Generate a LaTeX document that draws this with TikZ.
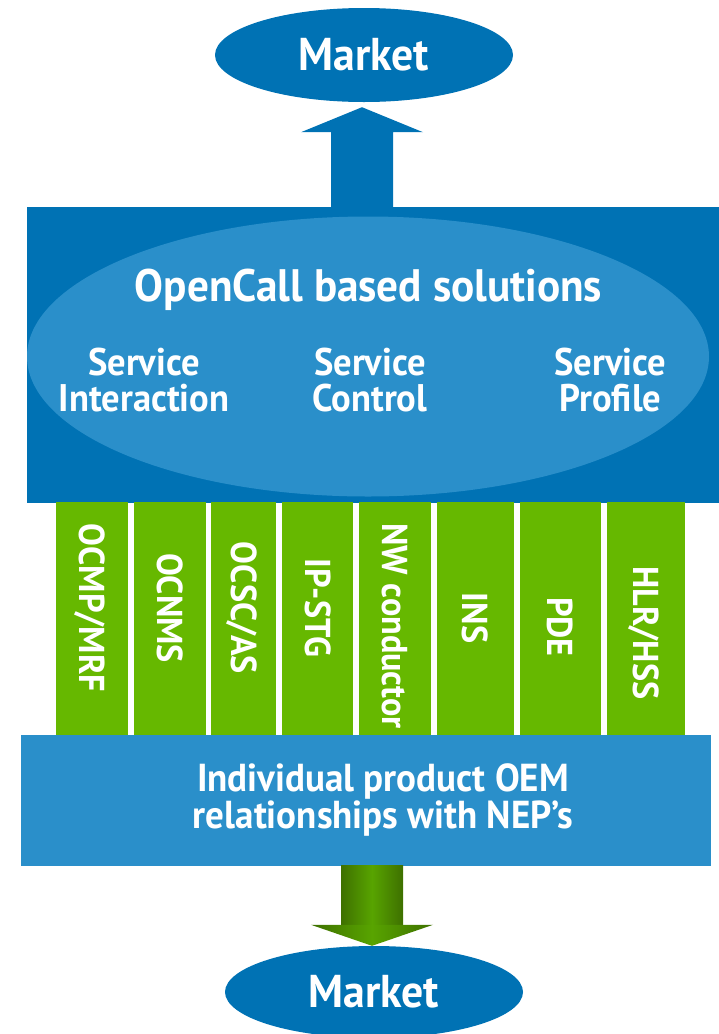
\documentclass[tikz,border=0pt]{standalone}
\usepackage{fontspec}
\setmainfont[FakeStretch=0.95]{PT Sans}
\usetikzlibrary{shapes.geometric,calc}
\definecolor{dkblue}{RGB}{0,114,180}
\definecolor{ltblue}{RGB}{42,143,202}
\definecolor{grn}{RGB}{102,184,0}
\definecolor{gdark}{RGB}{62,112,0}
\definecolor{glight}{RGB}{88,164,0}
\begin{document}
\begin{tikzpicture}[x=1pt,y=-1pt,
  wtxt/.style={text=white,font=\bfseries,inner sep=0pt},
  mkt/.style={ellipse,fill=dkblue,inner sep=0pt,minimum width=298pt,minimum height=94pt,
              text=white,font=\fontsize{46}{50}\selectfont\bfseries},
  colbox/.style={rectangle,fill=grn,inner sep=0pt,minimum height=233pt},
  coltxt/.style={wtxt,rotate=-90,font=\fontsize{36}{40}\selectfont\bfseries,text height=25pt,text depth=0pt},
  svc/.style={wtxt,align=center,font=\fontsize{38.5}{36}\selectfont\bfseries}]
\useasboundingbox (0,0) rectangle (719,1034);
\clip (0,0) rectangle (719,1034);

% top market
\node[mkt] (mtop) at (364,55) {Market};

% solutions block
\node[rectangle,fill=dkblue,inner sep=0pt,minimum width=692pt,minimum height=296pt] (sol) at (373,355) {};
\node[ellipse,fill=ltblue,inner sep=0pt,minimum width=682pt,minimum height=280pt] (ocs) at (368,356.5) {};
\node[wtxt,anchor=base,font=\fontsize{45.5}{48}\selectfont\bfseries] (title) at (368.5,301) {OpenCall based solutions};
\node[svc] (si) at (144,380) {Service\\Interaction};
\node[svc] (sc) at (370,380) {Service\\Control};
\node[svc] (sp) at (610.5,380) {Service\\Profile};

% top arrow
\coordinate (ta) at ($(mtop.south)+(-2,5)$);
\fill[dkblue] (ta) -- ($(ta)+(61,25)$) -- ($(ta)+(31,25)$) -- ($(ta |- sol.north)+(31,2)$)
  -- ($(ta |- sol.north)+(-31,2)$) -- ($(ta)+(-31,25)$) -- ($(ta)+(-61,25)$) -- cycle;

% columns
\foreach \i/\xl/\xr/\ty/\t in {1/56/128/608/{OCMP/MRF},2/134/205.5/608/OCNMS,3/211/276/608/{OCSC/AS},
  4/282/353/608/IP-STG,5/359/431/626/NW conductor,6/437/513.5/618/INS,7/519.5/601/627/PDE,8/607/685/633/{HLR/HSS}}{
  \node[colbox,minimum width={(\xr-\xl)*1pt}] (c\i) at ({(\xl+\xr)/2},618.5) {};
  \node[coltxt] (t\i) at ({(\xl+\xr)/2},\ty) {\t};
}

% individual OEM block
\node[rectangle,fill=ltblue,inner sep=0pt,minimum width=690pt,minimum height=131pt] (ind) at (366,800.5) {};
\node[wtxt,align=center,font=\fontsize{39}{35}\selectfont\bfseries] (indt) at (383,800) {Individual product OEM\\relationships with NEP’s};

% bottom market
\node[mkt,minimum height=92pt] (mbot) at (374,992) {Market};

% bottom arrow
\coordinate (ba) at ($(mbot.north)+(-2,0)$);
\shade[left color=gdark,right color=gdark,middle color=glight]
  ($(ba |- ind.south)+(-31,-1)$) rectangle ($(ba)+(31,-21)$);
\shade[left color=gdark,right color=gdark,middle color=glight]
  (ba) -- ($(ba)+(-61,-21)$) -- ($(ba)+(61,-21)$) -- cycle;
\end{tikzpicture}
\end{document}
